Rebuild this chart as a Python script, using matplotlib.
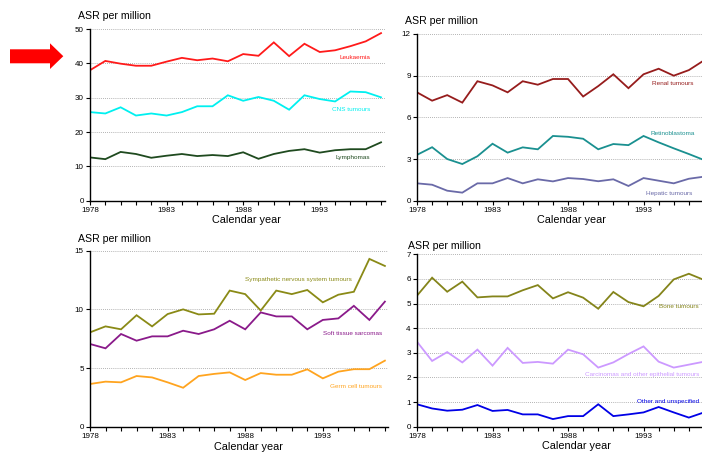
"""
Childhood cancer incidence trends 1978-1997, four panels of ASR per million.
"""

import matplotlib
matplotlib.use("Agg")
import matplotlib.pyplot as plt
from matplotlib.patches import Polygon

plt.rcParams['font.family'] = ['Liberation Sans', 'DejaVu Sans']

# ── DATA ──────────────────────────────────────────────────────────────────────

years = list(range(1978, 1998))

leukaemia = [38.0, 40.7, 39.9, 39.3, 39.3, 40.5, 41.6, 40.9, 41.4, 40.6,
             42.7, 42.2, 46.1, 42.1, 45.7, 43.3, 43.8, 45.0, 46.4, 48.8]
cns = [25.8, 25.4, 27.2, 24.8, 25.4, 24.8, 25.8, 27.5, 27.5, 30.7,
       29.1, 30.2, 29.1, 26.5, 30.7, 29.6, 28.9, 31.8, 31.6, 30.1]
lymphomas = [12.6, 12.1, 14.2, 13.6, 12.5, 13.1, 13.6, 13.0, 13.3, 13.0,
             14.1, 12.2, 13.6, 14.5, 15.0, 14.0, 14.7, 15.0, 15.0, 17.0]

renal = [7.8, 7.2, 7.6, 7.06, 8.6, 8.3, 7.8, 8.6, 8.35, 8.76,
         8.76, 7.5, 8.25, 9.1, 8.1, 9.1, 9.5, 9.0, 9.4, 10.1]
retinoblastoma = [3.3, 3.85, 3.0, 2.64, 3.2, 4.1, 3.46, 3.84, 3.7, 4.66,
                  4.6, 4.46, 3.7, 4.08, 4.0, 4.66, 4.2, 3.77, 3.36, 2.93]
hepatic = [1.25, 1.15, 0.72, 0.58, 1.25, 1.25, 1.63, 1.25, 1.54, 1.39,
           1.63, 1.56, 1.4, 1.54, 1.06, 1.63, 1.44, 1.25, 1.58, 1.73]

sympathetic = [8.04, 8.55, 8.3, 9.5, 8.55, 9.6, 10.0, 9.57, 9.63, 11.6,
               11.3, 9.9, 11.6, 11.3, 11.65, 10.6, 11.25, 11.5, 14.3, 13.7]
soft_tissue = [7.05, 6.68, 7.9, 7.33, 7.7, 7.7, 8.18, 7.9, 8.3, 9.03,
               8.3, 9.74, 9.4, 9.4, 8.3, 9.1, 9.23, 10.3, 9.1, 10.66]
germ_cell = [3.64, 3.84, 3.78, 4.32, 4.2, 3.78, 3.32, 4.32, 4.5, 4.63,
             3.98, 4.57, 4.43, 4.43, 4.89, 4.12, 4.69, 4.9, 4.9, 5.63]

bone = [5.32, 6.05, 5.48, 5.89, 5.25, 5.29, 5.29, 5.54, 5.75, 5.21,
        5.46, 5.24, 4.79, 5.47, 5.06, 4.89, 5.31, 5.98, 6.21, 5.96]
carcinomas = [3.45, 2.67, 3.03, 2.61, 3.13, 2.48, 3.2, 2.59, 2.63, 2.56,
              3.13, 2.94, 2.4, 2.61, 2.95, 3.26, 2.64, 2.4, 2.52, 2.64]
other = [0.91, 0.74, 0.65, 0.69, 0.88, 0.64, 0.68, 0.5, 0.5, 0.31,
         0.43, 0.43, 0.91, 0.43, 0.5, 0.58, 0.8, 0.58, 0.37, 0.58]

year_labels = [1978, 1983, 1988, 1993]

# ── FIGURE ────────────────────────────────────────────────────────────────────

W, H = 702, 453
fig = plt.figure(figsize=(W / 100, H / 100), dpi=100)


def px_axes(x0, x1, ytop, ybot):
    # axes box given in image pixels (top-left origin)
    return fig.add_axes([x0 / W, 1 - ybot / H, (x1 - x0) / W, (ybot - ytop) / H])


def panel(ax, ymax, ystep, series, xright):
    for vals, col, lab, lx, ly, ha in series:
        ax.plot(years, vals, color=col, linewidth=1.3, solid_joinstyle='miter')
        ax.text(lx, ly, lab, color=col, fontsize=4.6, ha=ha, va='center',
                transform=ax.transAxes, clip_on=False)
    ax.set_xlim(1978, xright)
    ax.set_ylim(0, ymax)
    ax.set_yticks(range(0, ymax + 1, ystep))
    ax.set_xticks(years, minor=False)
    ax.set_xticklabels([str(y) if y in year_labels else '' for y in years])
    for y in range(ystep, ymax + 1, ystep):
        ax.axhline(y, color='#9a9a9a', linewidth=0.6, linestyle=(0, (1, 1.5)), zorder=0)
    for s in ['top', 'right']:
        ax.spines[s].set_visible(False)
    for s in ['left', 'bottom']:
        ax.spines[s].set_linewidth(1.0)
        ax.spines[s].set_color('black')
    ax.tick_params(axis='both', length=3, width=0.8, labelsize=5.8, pad=1.5, colors='black')
    ax.set_xlabel("Calendar year", fontsize=7.8, labelpad=0)
    ax.text(-0.04, 1.045, "ASR per million", transform=ax.transAxes,
            fontsize=7.6, ha='left', va='bottom')


# top left
ax = px_axes(90, 385, 29, 200.7)
panel(ax, 50, 10, [
    (leukaemia, '#ff1a1a', 'Leukaemia', 0.95, 0.835, 'right'),
    (cns, '#00f0f0', 'CNS tumours', 0.95, 0.53, 'right'),
    (lymphomas, '#1f4a1f', 'Lymphomas', 0.95, 0.25, 'right'),
], 1997.26)
ax.xaxis.set_label_coords(0.53, -0.085)
ax.texts[-1].set_position((-0.04, 1.045))

# top right
ax = px_axes(417, 705, 34, 200.7)
panel(ax, 12, 3, [
    (renal, '#961c1c', 'Renal tumours', 0.96, 0.705, 'right'),
    (retinoblastoma, '#1a9090', 'Retinoblastoma', 0.965, 0.405, 'right'),
    (hepatic, '#6a6aa8', 'Hepatic tumours', 0.955, 0.045, 'right'),
], 1997.07)
ax.xaxis.set_label_coords(0.537, -0.085)
ax.texts[-1].set_position((-0.04, 1.045))

# bottom left
ax = px_axes(90, 388, 250.7, 426.7)
panel(ax, 15, 5, [
    (sympathetic, '#8a8a16', 'Sympathetic nervous system tumours', 0.88, 0.835, 'right'),
    (soft_tissue, '#8a1a8a', 'Soft tissue sarcomas', 0.98, 0.53, 'right'),
    (germ_cell, '#ffa41f', 'Germ cell tumours', 0.98, 0.23, 'right'),
], 1997.2)
ax.xaxis.set_label_coords(0.53, -0.085)
ax.texts[-1].set_position((-0.04, 1.04))

# bottom right
ax = px_axes(417, 705, 254.3, 426.7)
panel(ax, 7, 1, [
    (bone, '#84841a', 'Bone tumours', 0.98, 0.70, 'right'),
    (carcinomas, '#cc99ff', 'Carcinomas and other epithelial tumours', 0.98, 0.305, 'right'),
    (other, '#0000e6', 'Other and unspecified', 0.98, 0.145, 'right'),
], 1997.07)
ax.xaxis.set_label_coords(0.552, -0.085)
ax.texts[-1].set_position((-0.03, 1.02))

# red arrow pointing at the leukaemia panel
arrow = [(10, 49.3), (50, 49.3), (50, 43.3), (63.3, 56.2),
         (50, 69), (50, 63.3), (10, 63.3)]
fig.patches.append(Polygon([(x / W, 1 - y / H) for x, y in arrow], closed=True,
                           facecolor='#ff0000', edgecolor='none',
                           transform=fig.transFigure, figure=fig))

fig.savefig("out.png", dpi=100)
